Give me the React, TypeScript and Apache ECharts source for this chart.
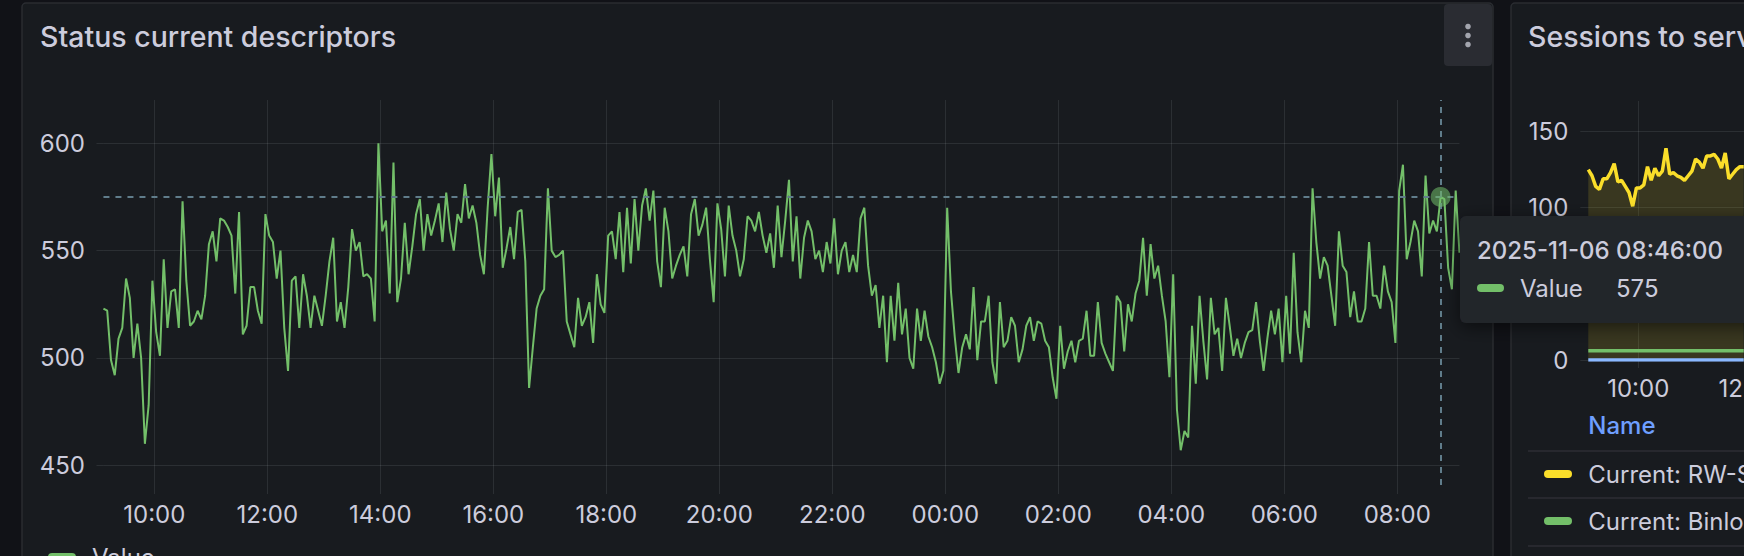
import React, { useEffect, useRef } from "react";
import * as echarts from "echarts";

// ---------- data ----------
// time axis expressed in hours since 2025-11-05 00:00 (local dashboard time)
const START_HOUR = 9.1; // 09:06 on 2025-11-05
const STEP_HOURS = 1 / 15; // 4 minutes
const X_MIN = 9.1;
const X_MAX = 33.1;
const xTickHours = [10, 12, 14, 16, 18, 20, 22, 24, 26, 28, 30, 32];
const descriptorTicks = [450, 500, 550, 600];
const sessionTicks = [0, 50, 100, 150];
const sessionLabels = [0, 100, 150]; // the 50 label sits under the hover tooltip

// "Status current descriptors" – Value
const descriptorValues = [
  523, 522, 499, 492, 509, 514, 537, 528, 500, 516,
  500, 460, 478, 536, 512, 501, 546, 514, 531, 532,
  514, 573, 536, 515, 517, 522, 518, 529, 553, 559,
  545, 565, 564, 561, 557, 530, 568, 511, 515, 533,
  533, 522, 516, 567, 557, 554, 537, 550, 514, 494,
  536, 538, 514, 539, 529, 514, 529, 522, 515, 529,
  545, 556, 517, 526, 514, 533, 560, 550, 554, 538,
  539, 537, 517, 600, 559, 564, 530, 591, 526, 537,
  563, 539, 552, 567, 574, 550, 567, 557, 564, 572,
  554, 577, 560, 550, 567, 563, 581, 565, 571, 563,
  548, 539, 570, 595, 566, 584, 542, 551, 561, 546,
  568, 569, 545, 486, 505, 523, 529, 532, 579, 550,
  547, 548, 550, 517, 511, 505, 528, 515, 519, 526,
  507, 539, 525, 521, 557, 559, 546, 568, 540, 570,
  544, 574, 550, 571, 579, 564, 578, 545, 533, 570,
  559, 537, 543, 548, 552, 538, 567, 574, 557, 562,
  570, 546, 526, 572, 560, 538, 571, 557, 550, 538,
  546, 566, 564, 559, 568, 557, 549, 558, 542, 571,
  547, 564, 583, 545, 566, 537, 556, 564, 559, 546,
  550, 540, 554, 544, 565, 539, 550, 554, 540, 548,
  540, 565, 570, 543, 529, 534, 514, 529, 498, 529,
  508, 535, 511, 523, 500, 495, 523, 508, 522, 510,
  505, 498, 488, 494, 570, 531, 510, 493, 505, 511,
  504, 533, 499, 517, 517, 529, 498, 488, 526, 505,
  508, 519, 515, 498, 504, 515, 519, 508, 517, 516,
  508, 505, 491, 481, 515, 495, 503, 508, 498, 508,
  509, 522, 501, 501, 526, 507, 502, 498, 494, 529,
  526, 503, 525, 517, 530, 536, 556, 529, 553, 537,
  543, 529, 517, 491, 539, 476, 457, 466, 463, 515,
  488, 529, 508, 490, 528, 511, 514, 494, 528, 515,
  501, 509, 500, 507, 512, 513, 526, 508, 494, 509,
  522, 511, 523, 498, 529, 502, 549, 512, 498, 522,
  514, 579, 554, 537, 547, 543, 529, 515, 559, 543,
  540, 519, 531, 517, 517, 523, 554, 529, 529, 523,
  543, 531, 526, 507, 578, 590, 546, 554, 564, 559,
  538, 585, 558, 564, 559, 575, 574, 542, 532, 578, 549,
];
const HOVER_INDEX = 355; // 2025-11-06 08:46

// "Sessions to services" (visible part only)
const rwSplitValues = [
  125, 121, 114, 112, 119, 119, 123, 129, 117, 118,
  114, 110, 101, 113, 113, 115, 127, 118, 126, 121,
  124, 139, 122, 123, 121, 120, 118, 121, 124, 132,
  130, 126, 134, 134, 135, 132, 126, 136, 119, 122,
  125, 127, 127,
];
const binlogValues = [
  6, 6, 6, 6, 6, 6, 6, 6, 6, 6,
  6, 6, 6, 6, 6, 6, 6, 6, 6, 6,
  6, 6, 6, 6, 6, 6, 6, 6, 6, 6,
  6, 6, 6, 6, 6, 6, 6, 6, 6, 6,
  6, 6, 6,
];
const readConnValues = [
  0, 0, 0, 0, 0, 0, 0, 0, 0, 0,
  0, 0, 0, 0, 0, 0, 0, 0, 0, 0,
  0, 0, 0, 0, 0, 0, 0, 0, 0, 0,
  0, 0, 0, 0, 0, 0, 0, 0, 0, 0,
  0, 0, 0,
];

// ---------- helpers ----------
const FONT = "Inter, 'Noto Sans', sans-serif";
const TEXT = "#ccccdc";
const GRID_LINE = "rgba(240,250,255,0.09)";
const PANEL_BG = "#181b1f";
const PANEL_BORDER = "#2a2c31";
const GREEN = "#73BF69";
const YELLOW = "#FADE2A";
const BLUE = "#8AB8FF";

const pad = (n: number) => String(n).padStart(2, "0");
const hourOf = (i: number) => START_HOUR + i * STEP_HOURS;
const toPairs = (vals: number[]) => vals.map((v, i) => [hourOf(i), v]);
const hourLabel = (h: number) => `${pad(Math.round(h) % 24)}:00`;
const fullTime = (h: number) => {
  const total = Math.round(h * 60);
  const day = 5 + Math.floor(total / 1440);
  const m = total % 1440;
  return `2025-11-${pad(day)} ${pad(Math.floor(m / 60))}:${pad(m % 60)}:00`;
};

const txt = (
  text: string,
  x: number,
  y: number,
  size: number,
  fill: string,
  weight = 400,
  z = 5,
  align = "left"
) => ({
  type: "text",
  x,
  y,
  z,
  silent: true,
  style: {
    text,
    fill,
    font: `${weight} ${size}px ${FONT}`,
    textAlign: align,
    align,
    textVerticalAlign: "middle",
    verticalAlign: "middle",
  },
});

// the chart canvas is wider than the visible window so that the
// second (partially visible) panel keeps its real proportions
const CANVAS_W = 3000;

export default function App() {
  const ref = useRef<HTMLDivElement>(null);

  useEffect(() => {
    document.body.style.margin = "0";
    document.body.style.overflow = "hidden";
    const chart = echarts.init(ref.current!, null, { renderer: "svg" });

    const hoverHour = hourOf(HOVER_INDEX);
    const hoverValue = descriptorValues[HOVER_INDEX];

    const axisLabelBase = { color: TEXT, fontSize: 24, fontFamily: FONT };

    const option = {
      animation: false,
      backgroundColor: "#111217",
      grid: [
        { left: 103.45, top: 100, width: 1356, height: 385 },
        { left: 1588.3, top: 101, width: 1332, height: 259 },
      ],
      xAxis: [0, 1].map((g) => ({
        type: "value",
        gridIndex: g,
        min: X_MIN,
        max: X_MAX,
        axisLine: { show: false },
        axisTick: {
          show: true,
          length: g === 0 ? 9 : 8,
          customValues: xTickHours,
          lineStyle: { color: GRID_LINE, width: 1 },
        },
        axisLabel: {
          ...axisLabelBase,
          customValues: xTickHours,
          formatter: hourLabel,
          margin: g === 0 ? 17 : 16,
        },
        splitLine: { show: true, lineStyle: { color: GRID_LINE, width: 1 } },
      })),
      yAxis: [
        {
          type: "value",
          gridIndex: 0,
          min: 440.82,
          max: 620.17,
          axisLine: { show: false },
          axisTick: {
            show: true,
            length: 7,
            customValues: descriptorTicks,
            lineStyle: { color: GRID_LINE, width: 1 },
          },
          axisLabel: { ...axisLabelBase, customValues: descriptorTicks, margin: 18.5 },
          splitLine: { show: true, lineStyle: { color: GRID_LINE, width: 1 } },
        },
        {
          type: "value",
          gridIndex: 1,
          min: 0,
          max: 170.1,
          axisLine: { show: false },
          axisTick: {
            show: true,
            length: 8,
            customValues: sessionTicks,
            lineStyle: { color: GRID_LINE, width: 1 },
          },
          axisLabel: { ...axisLabelBase, customValues: sessionLabels, margin: 20 },
          splitLine: { show: true, lineStyle: { color: GRID_LINE, width: 1 } },
        },
      ],
      series: [
        {
          type: "line",
          name: "Value",
          xAxisIndex: 0,
          yAxisIndex: 0,
          data: toPairs(descriptorValues),
          symbol: "none",
          showSymbol: false,
          lineStyle: { color: GREEN, width: 2 },
          itemStyle: { color: GREEN },
          z: 3,
          markLine: {
            silent: true,
            symbol: ["none", "none"],
            label: { show: false },
            lineStyle: { color: "#607D8B", type: [6, 6], width: 2 },
            data: [{ xAxis: hoverHour }, { yAxis: hoverValue }],
          },
          markPoint: {
            silent: true,
            symbol: "circle",
            symbolSize: 20,
            label: { show: false },
            itemStyle: { color: "rgba(115,191,105,0.55)" },
            data: [{ coord: [hoverHour, hoverValue] }],
          },
        },
        {
          type: "line",
          name: "Current: RW-Split-Router",
          xAxisIndex: 1,
          yAxisIndex: 1,
          data: toPairs(rwSplitValues),
          symbol: "none",
          lineStyle: { color: YELLOW, width: 3.5 },
          itemStyle: { color: YELLOW },
          areaStyle: { color: YELLOW, opacity: 0.15 },
        },
        {
          type: "line",
          name: "Current: Binlog-Router",
          xAxisIndex: 1,
          yAxisIndex: 1,
          data: toPairs(binlogValues),
          symbol: "none",
          lineStyle: { color: GREEN, width: 3.5 },
          itemStyle: { color: GREEN },
        },
        {
          type: "line",
          name: "Current: Read-Connection-Router",
          xAxisIndex: 1,
          yAxisIndex: 1,
          data: toPairs(readConnValues),
          symbol: "none",
          lineStyle: { color: BLUE, width: 3.5 },
          itemStyle: { color: BLUE },
        },
      ],
      graphic: {
        elements: [
          // panels
          {
            type: "rect",
            z: -10,
            silent: true,
            shape: { x: 22, y: 3, width: 1471, height: 620, r: 4 },
            style: { fill: PANEL_BG, stroke: PANEL_BORDER, lineWidth: 1.5 },
          },
          {
            type: "rect",
            z: -10,
            silent: true,
            shape: { x: 1511, y: 3, width: 1420, height: 620, r: 4 },
            style: { fill: PANEL_BG, stroke: PANEL_BORDER, lineWidth: 1.5 },
          },
          // titles
          txt("Status current descriptors", 40, 36, 28.5, TEXT, 500),
          txt("Sessions to services", 1528, 36.5, 28.5, TEXT, 500),
          // panel menu button
          {
            type: "rect",
            z: 1,
            silent: true,
            shape: { x: 1444, y: 4, width: 48, height: 62, r: 4 },
            style: { fill: "#2a2c32" },
          },
          { type: "circle", z: 2, silent: true, shape: { cx: 1468, cy: 26.5, r: 2.8 }, style: { fill: "#a3a5ae" } },
          { type: "circle", z: 2, silent: true, shape: { cx: 1468, cy: 35.5, r: 2.8 }, style: { fill: "#a3a5ae" } },
          { type: "circle", z: 2, silent: true, shape: { cx: 1468, cy: 44.5, r: 2.8 }, style: { fill: "#a3a5ae" } },
          // panel 1 legend
          {
            type: "rect",
            z: 2,
            silent: true,
            shape: { x: 48, y: 553, width: 28, height: 8, r: 4 },
            style: { fill: GREEN },
          },
          txt("Value", 92, 557, 24, TEXT),
          // panel 2 legend table
          txt("Name", 1588.3, 425.5, 24, "#6E9FFF", 500),
          {
            type: "line",
            z: 2,
            silent: true,
            shape: { x1: 1528, y1: 451, x2: 2900, y2: 451 },
            style: { stroke: "#2c2e34", lineWidth: 1.5 },
          },
          {
            type: "rect",
            z: 2,
            silent: true,
            shape: { x: 1544, y: 470, width: 28, height: 8, r: 4 },
            style: { fill: YELLOW },
          },
          txt("Current: RW-Split-Router", 1588.3, 474, 24, TEXT),
          {
            type: "line",
            z: 2,
            silent: true,
            shape: { x1: 1528, y1: 498, x2: 2900, y2: 498 },
            style: { stroke: "#2c2e34", lineWidth: 1.5 },
          },
          {
            type: "rect",
            z: 2,
            silent: true,
            shape: { x: 1544, y: 517, width: 28, height: 8, r: 4 },
            style: { fill: GREEN },
          },
          txt("Current: Binlog-Router", 1588.3, 521, 24, TEXT),
          {
            type: "line",
            z: 2,
            silent: true,
            shape: { x1: 1528, y1: 546, x2: 2900, y2: 546 },
            style: { stroke: "#2c2e34", lineWidth: 1.5 },
          },
          // tooltip
          {
            type: "rect",
            z: 100,
            silent: true,
            shape: { x: 1460, y: 216, width: 420, height: 107, r: 6 },
            style: {
              fill: "#22252b",
              shadowBlur: 18,
              shadowColor: "rgba(0,0,0,0.55)",
              shadowOffsetY: 4,
            },
          },
          txt(fullTime(hoverHour), 1477, 250, 24, TEXT, 500, 101),
          {
            type: "rect",
            z: 101,
            silent: true,
            shape: { x: 1477, y: 284, width: 27, height: 8, r: 4 },
            style: { fill: GREEN },
          },
          txt("Value", 1520, 288.5, 24, TEXT, 400, 101),
          txt(String(hoverValue), 1616, 288.5, 24, TEXT, 400, 101),
        ],
      },
    };

    chart.setOption(option as any);
    return () => chart.dispose();
  }, []);

  return (
    <div
      style={{
        position: "absolute",
        left: 0,
        top: 0,
        width: 1744,
        height: 556,
        overflow: "hidden",
      }}
    >
      <div ref={ref} style={{ width: CANVAS_W, height: 556 }} />
    </div>
  );
}
